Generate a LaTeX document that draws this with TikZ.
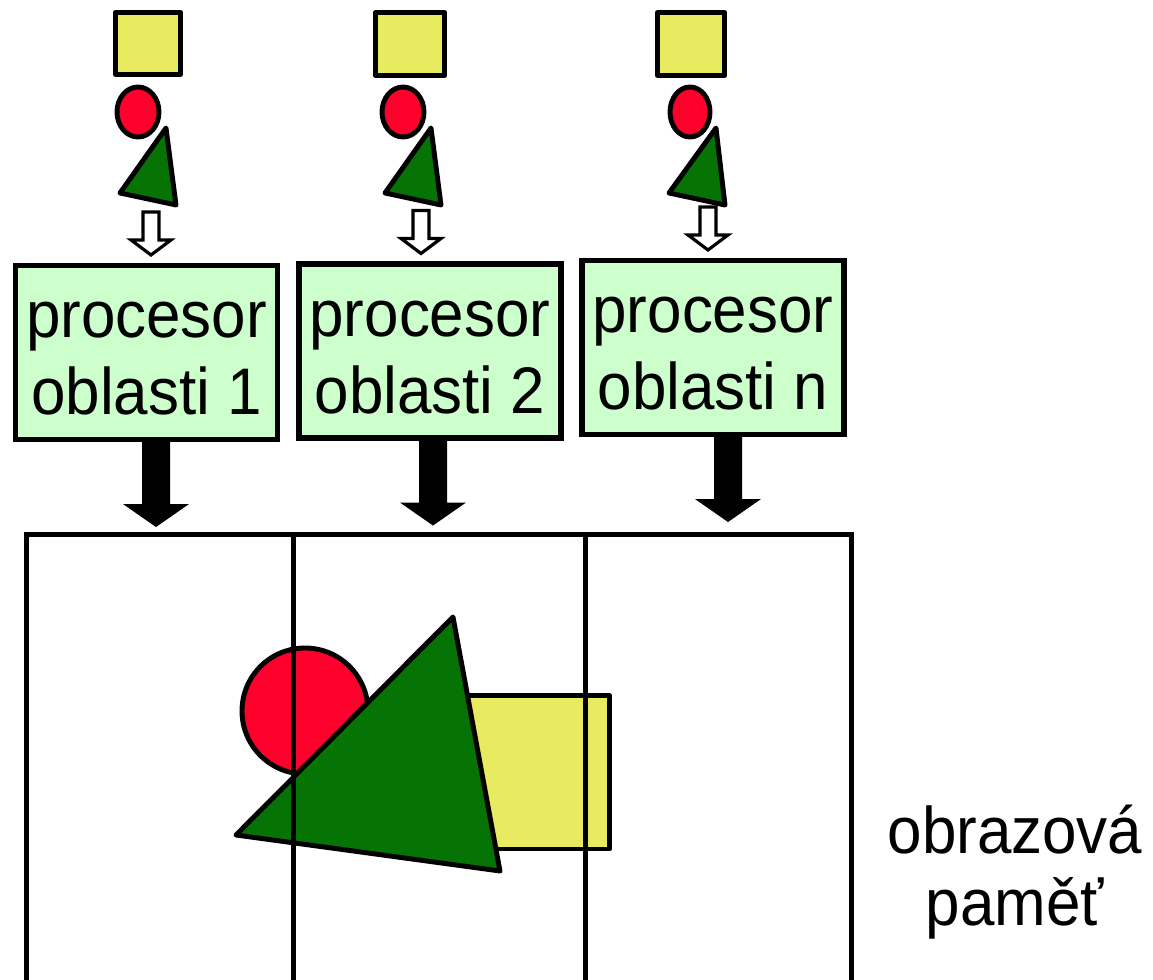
\documentclass[tikz,border=0pt]{standalone}
\usepackage{fontspec}
\setmainfont{Liberation Sans}[FakeStretch=0.94]
\definecolor{boxgreen}{RGB}{204,255,204}
\definecolor{shapeyellow}{RGB}{232,234,96}
\definecolor{shapered}{RGB}{255,0,44}
\definecolor{shapegreen}{RGB}{5,116,5}

\tikzset{
  procbox/.style={draw, line width=2.9pt, fill=boxgreen, minimum width=5.24cm,
    minimum height=3.48cm, inner sep=0pt, align=center,
    font=\fontsize{37.5}{43.7}\selectfont},
  tile/.style={draw, line width=2.6pt, minimum height=9.5cm, inner sep=0pt,
    anchor=north west},
  outl/.style={draw=black, line width=2.8pt, line join=round},
  fatarrow/.pic={\fill[black] (-14,0) -- (-14,62) -- (-33,62) -- (0,85)
    -- (33,62) -- (14,62) -- (14,0) -- cycle;},
  hollowarrow/.pic={\draw[fill=white, line width=1.8pt, line join=miter]
    (0,-8) -- (-20,-23) -- (-8,-23) -- (-8,-51) -- (8,-51) -- (8,-23)
    -- (20,-23) -- cycle;}
}
\newcommand{\toprow}{\rule{0pt}{27.3pt}}

\begin{document}
\begin{tikzpicture}[x=0.02cm, y=-0.02cm]
\clip (0,0) rectangle (1153,980);

% vstupni primitiva
\draw[outl, fill=shapeyellow] (115.5,12.5) rectangle (180.5,74.5);
\draw[outl, fill=shapered] (138,112) ellipse (21 and 25);
\draw[outl, fill=shapegreen] (166,128) -- (120,193) -- (176,205) -- cycle;
\draw[outl, fill=shapeyellow] (375.5,12.5) rectangle (444.5,75.5);
\draw[outl, fill=shapered] (403,112) ellipse (21 and 25);
\draw[outl, fill=shapegreen] (431,128) -- (385,193) -- (441,205) -- cycle;
\draw[outl, fill=shapeyellow] (657.5,12.5) rectangle (724.5,75.5);
\draw[outl, fill=shapered] (690,112) ellipse (20 and 25);
\draw[outl, fill=shapegreen] (716,128) -- (669,193) -- (725,205) -- cycle;

% procesory
\node[procbox] (p1) at (146.5,352.5) {\toprow procesor\\oblasti 1};
\node[procbox] (p2) at (430,351) {\toprow procesor\\oblasti 2};
\node[procbox] (p3) at (713,347.5) {\toprow procesor\\oblasti n};

\path (p1.north) ++(4.5,0) pic {hollowarrow};
\path (p2.north) ++(-9,0) pic {hollowarrow};
\path (p3.north) ++(-5,0) pic {hollowarrow};
\path (p1.south) ++(9.5,0) pic {fatarrow};
\path (p2.south) ++(3,0) pic {fatarrow};
\path (p3.south) ++(15,0) pic {fatarrow};

% obsah obrazove pameti
\draw[outl, fill=shapeyellow] (440,695.5) rectangle (609.5,849);
\draw[outl, fill=shapered] (305,711) circle (63);
\draw[outl, fill=shapegreen] (453,617) -- (236,835) -- (500,871) -- cycle;

% obrazova pamet
\node[tile, minimum width=5.34cm] (fb1) at (24,532) {};
\node[tile, minimum width=5.84cm] (fb2) at (291,532) {};
\node[tile, minimum width=5.32cm] (fb3) at (583,532) {};
\node[align=center, font=\fontsize{37.5}{41.4}\selectfont] (fblabel) at (1015,872)
  {obrazová\\paměť};
\end{tikzpicture}
\end{document}
